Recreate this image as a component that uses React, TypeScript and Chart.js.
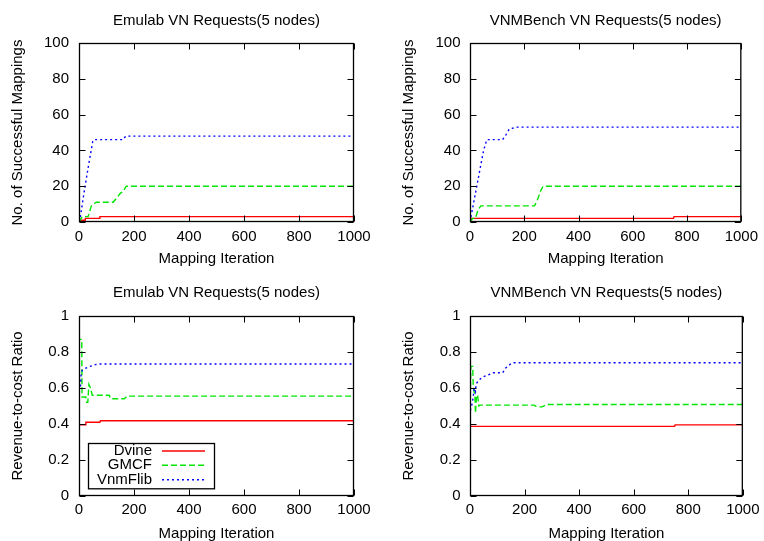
import React, { useEffect, useRef } from "react";
import { Chart, registerables } from "chart.js";

Chart.register(...registerables);

const FONT = '"Liberation Sans", Arial, Helvetica, sans-serif';

// ---- text ----
const seriesNames = ["Dvine", "GMCF", "VnmFlib"];
const panelTitles = [
  "Emulab VN Requests(5 nodes)",
  "VNMBench VN Requests(5 nodes)",
  "Emulab VN Requests(5 nodes)",
  "VNMBench VN Requests(5 nodes)",
];
const xAxisTitle = "Mapping Iteration";
const yTitleCount = "No. of Successful Mappings";
const yTitleRatio = "Revenue-to-cost Ratio";

// ---- axis ranges / ticks ----
const xRange = [0, 1000];
const xStep = 200;
const countRange = [0, 100];
const countStep = 20;
const ratioRange = [0, 1];
const ratioStep = 0.2;

// ---- data: [iteration, value] ----
const emulabCountDvine = [[0, 0], [5, 1], [22, 1], [23, 2], [75, 2], [76, 3], [1000, 3]];
const emulabCountGmcf = [[0, 0], [12, 3], [33, 3], [45, 9], [51, 10], [63, 11], [124, 11], [135, 13], [150, 16], [160, 17], [172, 20], [1000, 20]];
const emulabCountVnm = [[0, 0], [5, 3], [20, 18], [35, 32], [50, 45], [55, 46], [160, 46], [170, 48], [1000, 48]];

const benchCountDvine = [[0, 1], [3, 2], [750, 2], [752, 3], [1000, 3]];
const benchCountGmcf = [[0, 0], [10, 2], [20, 2], [30, 7], [40, 9], [238, 9], [250, 13], [262, 18], [270, 20], [1000, 20]];
const benchCountVnm = [[0, 0], [10, 8], [25, 20], [40, 32], [50, 40], [62, 46], [120, 46], [130, 48], [145, 52], [175, 53], [1000, 53]];

const emulabRatioDvine = [[0, 0.395], [24, 0.395], [25, 0.41], [76, 0.41], [78, 0.418], [1000, 0.418]];
const emulabRatioGmcf = [[0, 0.55], [1, 0.87], [10, 0.87], [11, 0.55], [25, 0.55], [28, 0.52], [32, 0.52], [36, 0.62], [42, 0.6], [48, 0.56], [110, 0.56], [115, 0.54], [165, 0.54], [175, 0.555], [1000, 0.555]];
const emulabRatioVnm = [[0, 0.55], [2, 0.64], [5, 0.6], [8, 0.68], [12, 0.7], [25, 0.71], [40, 0.72], [60, 0.73], [75, 0.733], [1000, 0.733]];

const benchRatioDvine = [[0, 0], [1, 0.387], [750, 0.387], [752, 0.395], [1000, 0.395]];
const benchRatioGmcf = [[0, 0.45], [3, 0.72], [10, 0.72], [12, 0.6], [18, 0.56], [20, 0.46], [24, 0.56], [28, 0.56], [32, 0.5], [36, 0.505], [235, 0.505], [245, 0.495], [265, 0.495], [280, 0.508], [1000, 0.508]];
const benchRatioVnm = [[0, 0.42], [2, 0.48], [6, 0.5], [12, 0.55], [15, 0.6], [20, 0.58], [22, 0.62], [30, 0.64], [45, 0.66], [70, 0.675], [85, 0.685], [120, 0.685], [130, 0.71], [150, 0.735], [160, 0.74], [1000, 0.74]];

// ---- styles ----
const seriesColors = ["rgb(255,0,0)", "rgb(0,230,0)", "rgb(0,0,255)"];
const seriesDash = [[], [6, 3], [2, 3]];

type Panel = {
  left: number;
  top: number;
  title: string;
  yTitle: string;
  yRange: number[];
  yStep: number;
  series: number[][][];
  yWidth: number;
  padRight: number;
  padTop: number;
  titleY: number;
  xHeight: number;
  xTickPad: number;
  xTitlePad: number;
  yTitlePad: number;
  yTickPad: number;
  legend: boolean;
};

const panels: Panel[] = [
  {
    left: 0, top: 0, title: panelTitles[0], yTitle: yTitleCount, yRange: countRange, yStep: countStep,
    series: [emulabCountDvine, emulabCountGmcf, emulabCountVnm],
    yWidth: 79, padRight: 28, padTop: 43, titleY: 20.5, xHeight: 58, xTickPad: 6, xTitlePad: 12,
    yTitlePad: 9, yTickPad: 10, legend: false,
  },
  {
    left: 382, top: 0, title: panelTitles[1], yTitle: yTitleCount, yRange: countRange, yStep: countStep,
    series: [benchCountDvine, benchCountGmcf, benchCountVnm],
    yWidth: 88, padRight: 19, padTop: 43, titleY: 20.5, xHeight: 58, xTickPad: 6, xTitlePad: 12,
    yTitlePad: 18, yTickPad: 9.5, legend: false,
  },
  {
    left: 0, top: 270, title: panelTitles[2], yTitle: yTitleRatio, yRange: ratioRange, yStep: ratioStep,
    series: [emulabRatioDvine, emulabRatioGmcf, emulabRatioVnm],
    yWidth: 79, padRight: 28, padTop: 46, titleY: 23.3, xHeight: 54, xTickPad: 4.5, xTitlePad: 7.3,
    yTitlePad: 9, yTickPad: 10, legend: true,
  },
  {
    left: 382, top: 270, title: panelTitles[3], yTitle: yTitleRatio, yRange: ratioRange, yStep: ratioStep,
    series: [benchRatioDvine, benchRatioGmcf, benchRatioVnm],
    yWidth: 88, padRight: 19, padTop: 46, titleY: 23.3, xHeight: 54, xTickPad: 4.5, xTitlePad: 7.3,
    yTitlePad: 18, yTickPad: 9.5, legend: false,
  },
];

const fmt = (v: any) => String(+(+v).toFixed(4));

// gnuplot-like border with inward ticks on all four sides, plus a title centred on the plot
const framePlugin = {
  id: "gnuFrame",
  afterDraw(chart: any, _args: any, opts: any) {
    const { ctx, chartArea, scales } = chart;
    const { left, right, top, bottom } = chartArea;
    const L = left + 0.5, R = right - 0.5, T = top + 0.5, B = bottom - 0.5;
    const len = 6;
    ctx.save();
    ctx.strokeStyle = "#000";
    ctx.lineWidth = 1;
    ctx.setLineDash([]);
    ctx.beginPath();
    scales.x.ticks.forEach((t: any) => {
      const px = Math.round(scales.x.getPixelForValue(t.value)) + 0.5;
      ctx.moveTo(px, B);
      ctx.lineTo(px, B - len);
      ctx.moveTo(px, T);
      ctx.lineTo(px, T + len);
    });
    scales.y.ticks.forEach((t: any) => {
      const py = Math.round(scales.y.getPixelForValue(t.value)) + 0.5;
      ctx.moveTo(L, py);
      ctx.lineTo(L + len, py);
      ctx.moveTo(R, py);
      ctx.lineTo(R - len, py);
    });
    ctx.stroke();
    ctx.lineWidth = 1.3;
    ctx.strokeRect(L, T, R - L, B - T);
    if (opts && opts.title) {
      ctx.fillStyle = "#000";
      ctx.font = `15px ${FONT}`;
      ctx.textAlign = "center";
      ctx.textBaseline = "middle";
      ctx.fillText(opts.title, (left + right) / 2, opts.titleY);
    }
    ctx.restore();
  },
};

// gnuplot-like key box: right-aligned label followed by line sample
const keyPlugin = {
  id: "gnuKey",
  afterDraw(chart: any, _args: any, opts: any) {
    if (!opts || !opts.show) return;
    const { ctx, chartArea } = chart;
    const bx = chartArea.left + 9;
    const bw = 126;
    const by = chartArea.bottom - 53;
    const bh = 45.3;
    ctx.save();
    ctx.lineWidth = 1.3;
    ctx.setLineDash([]);
    ctx.strokeStyle = "#000000";
    ctx.strokeRect(Math.round(bx) + 0.5, Math.round(by) + 0.5, bw, bh);
    ctx.font = `15px ${FONT}`;
    ctx.textAlign = "right";
    ctx.textBaseline = "middle";
    const rows = [8, 22.3, 36.8];
    for (let i = 0; i < seriesNames.length; i++) {
      const y = by + rows[i];
      ctx.fillStyle = "#000000";
      ctx.fillText(seriesNames[i], bx + 64, y);
    }
    for (let i = 0; i < seriesNames.length; i++) {
      const y = by + rows[i];
      ctx.save();
      ctx.strokeStyle = seriesColors[i];
      ctx.lineWidth = 1.5;
      ctx.setLineDash(seriesDash[i]);
      ctx.beginPath();
      ctx.moveTo(bx + 74, y);
      ctx.lineTo(bx + 117, y);
      ctx.stroke();
      ctx.restore();
    }
    ctx.restore();
  },
};

function PanelChart({ p }: { p: Panel }) {
  const ref = useRef<HTMLCanvasElement | null>(null);
  useEffect(() => {
    if (!ref.current) return;
    const datasets = p.series.map((pts, i) => ({
      label: seriesNames[i],
      data: pts.map(([x, y]) => ({ x, y })),
      borderColor: seriesColors[i],
      backgroundColor: seriesColors[i],
      borderWidth: 1.4,
      borderDash: seriesDash[i],
      pointRadius: 0,
      pointHoverRadius: 0,
      fill: false,
      tension: 0,
      order: 2 - i,
    }));
    const tickFont = { family: FONT, size: 15, weight: "normal" as const };
    const chart = new Chart(ref.current, {
      type: "line",
      data: { datasets },
      options: {
        responsive: false,
        animation: false,
        events: [],
        layout: { padding: { left: 0, right: p.padRight, top: p.padTop, bottom: 0 } },
        plugins: {
          legend: { display: false },
          tooltip: { enabled: false },
          title: { display: false },
          // @ts-ignore
          gnuFrame: { title: p.title, titleY: p.titleY },
          // @ts-ignore
          gnuKey: { show: p.legend },
        },
        scales: {
          x: {
            type: "linear",
            min: xRange[0],
            max: xRange[1],
            ticks: {
              stepSize: xStep,
              color: "#000",
              font: tickFont,
              padding: p.xTickPad,
              maxRotation: 0,
              autoSkip: false,
              callback: fmt,
            },
            grid: { display: false, drawTicks: false },
            border: { display: false },
            title: {
              display: true,
              text: xAxisTitle,
              color: "#000",
              font: tickFont,
              padding: { top: 0, bottom: p.xTitlePad },
            },
            afterFit: (s: any) => {
              s.height = p.xHeight;
            },
          },
          y: {
            type: "linear",
            min: p.yRange[0],
            max: p.yRange[1],
            ticks: {
              stepSize: p.yStep,
              color: "#000",
              font: tickFont,
              padding: p.yTickPad,
              autoSkip: false,
              callback: fmt,
            },
            grid: { display: false, drawTicks: false },
            border: { display: false },
            title: {
              display: true,
              text: p.yTitle,
              color: "#000",
              font: tickFont,
              padding: { top: p.yTitlePad, bottom: 0 },
            },
            afterFit: (s: any) => {
              s.width = p.yWidth;
            },
          },
        },
      } as any,
      plugins: [framePlugin, keyPlugin],
    });
    return () => chart.destroy();
  }, [p]);
  return (
    <canvas
      ref={ref}
      width={382}
      height={280}
      style={{ position: "absolute", left: p.left, top: p.top, width: 382, height: 280 }}
    />
  );
}

export default function App() {
  return (
    <div
      style={{
        position: "absolute",
        left: 0,
        top: 0,
        width: 764,
        height: 541,
        overflow: "hidden",
        background: "#fff",
      }}
    >
      {panels.map((p, i) => (
        <PanelChart key={i} p={p} />
      ))}
    </div>
  );
}
